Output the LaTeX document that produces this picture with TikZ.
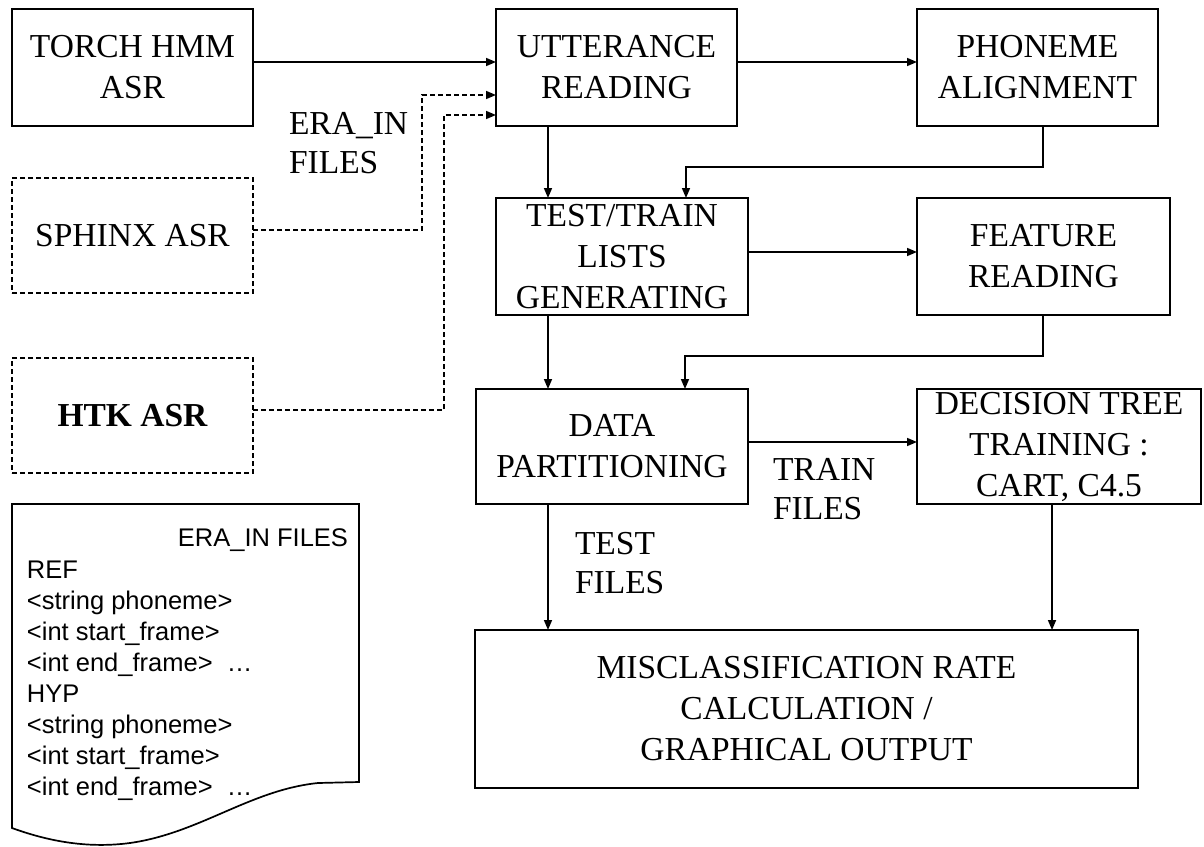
\documentclass[tikz,border=0pt]{standalone}
\usepackage{fontspec}
\setmainfont{Liberation Serif}
\newfontfamily\arialf{Liberation Sans}
\usetikzlibrary{arrows.meta}
\begin{document}
\begin{tikzpicture}[x=1pt,y=-1pt,
  every node/.style={inner sep=0pt, outer sep=0pt},
  box/.style={draw, line width=1.7pt, align=center, font=\fontsize{33.5}{41}\selectfont},
  dbox/.style={box, dash pattern=on 5pt off 3pt},
  lab/.style={align=left, anchor=west, font=\fontsize{33.5}{39}\selectfont},
  arr/.style={line width=1.6pt, -{Triangle[length=10pt,width=8pt]}},
  darr/.style={arr, dash pattern=on 5pt off 3pt},
  ln/.style={line width=1.7pt},
  doc/.style={font=\arialf\fontsize{25.5}{31}\selectfont, anchor=base west}
]
\useasboundingbox (0,0) rectangle (1204,846);

% boxes
\node[box, minimum width=241pt, minimum height=117pt] (torch) at (132.5,67.5) {TORCH HMM\\ASR};
\node[box, minimum width=241pt, minimum height=117pt] (utt) at (616.5,67.5) {UTTERANCE\\READING};
\node[box, minimum width=241pt, minimum height=117pt] (phon) at (1037.5,67.5) {PHONEME\\ALIGNMENT};
\node[box, minimum width=252pt, minimum height=117pt] (test) at (622,256.5) {TEST/TRAIN\\LISTS\\GENERATING};
\node[box, minimum width=253pt, minimum height=117pt] (feat) at (1043.5,256.5) {FEATURE\\READING};
\node[box, minimum width=272pt, minimum height=115pt] (data) at (612,446.5) {DATA\\PARTITIONING};
\node[box, minimum width=284pt, minimum height=115pt] (dec) at (1059,446.5) {DECISION TREE\\TRAINING :\\CART, C4.5};
\node[box, minimum width=663pt, minimum height=158pt] (misc) at (806.5,709) {MISCLASSIFICATION RATE\\CALCULATION /\\GRAPHICAL OUTPUT};
\node[dbox, minimum width=241pt, minimum height=115pt] (sphinx) at (132.5,235.5) {SPHINX ASR};
\node[dbox, minimum width=241pt, minimum height=115pt, font=\fontsize{33.5}{41}\selectfont\bfseries] (htk) at (132.5,415.5) {HTK ASR};

% connector labels
\node[lab] (era) at (289,143) {ERA\_IN\\FILES};
\node[lab] (train) at (773,489.5) {TRAIN\\FILES};
\node[lab] (testf) at (575,563.5) {TEST\\FILES};

% connectors
\draw[arr] (torch.east |- 0,62) -- (utt.west |- 0,62);
\draw[arr] (utt.east |- 0,62) -- (phon.west |- 0,62);
\draw[arr] (utt.south -| 548,0) -- (test.north -| 548,0);
\draw[arr] (phon.south -| 1043,0) -- ++(0,41) -| (test.north -| 686,0);
\draw[arr] (test.east |- 0,252) -- (feat.west |- 0,252);
\draw[arr] (test.south -| 548,0) -- (data.north -| 548,0);
\draw[arr] (feat.south -| 1043,0) -- ++(0,41) -| (data.north -| 685,0);
\draw[arr] (data.east |- 0,442) -- (dec.west |- 0,442);
\draw[arr] (data.south -| 548,0) -- (misc.north -| 548,0);
\draw[arr] (dec.south -| 1052,0) -- (misc.north -| 1052,0);
\draw[darr] (sphinx.east |- 0,230) -| (422,95) -- (utt.west |- 0,95);
\draw[darr] (htk.east |- 0,410) -| (444,115) -- (utt.west |- 0,115);

% document shape
\draw[ln] (12,828) -- (12,504) -- (359,504) -- (359,782) -- (318,783)
  .. controls (250,790) and (200,833) .. (130,843)
  .. controls (85,849) and (45,840) .. (12,828) -- cycle;
\node[doc, anchor=base east] (dh) at (348,546) {ERA\_IN FILES};
\foreach \t [count=\i from 0] in {REF,{<string phoneme>},{<int start\_frame>},{<int end\_frame> \ \ldots},HYP,{<string phoneme>},{<int start\_frame>},{<int end\_frame> \ \ldots}}
  \node[doc] (d\i) at (27,{578+31*\i}) {\t};
\end{tikzpicture}
\end{document}
